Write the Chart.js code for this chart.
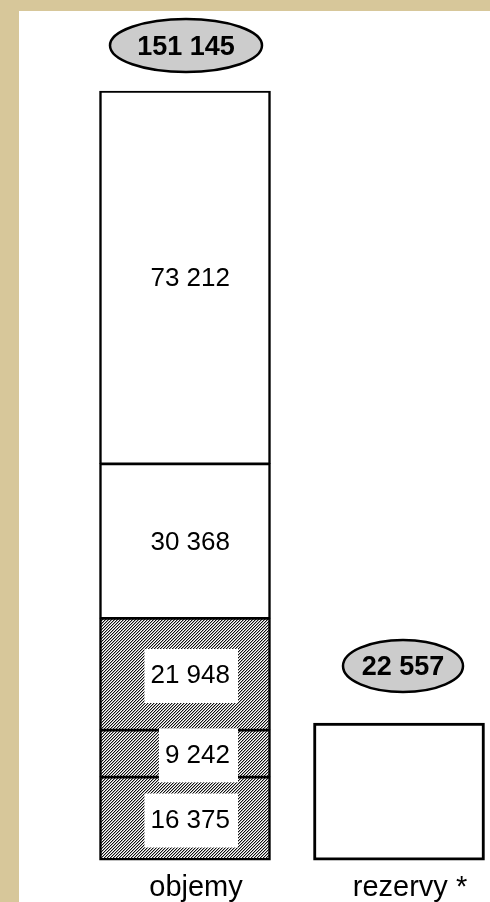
<!DOCTYPE html>
<html>
<head>
<meta charset="utf-8">
<script src="https://cdn.jsdelivr.net/npm/chart.js@4/dist/chart.umd.min.js"></script>
<style>
  html, body { margin: 0; padding: 0; background: #fff; }
  #c { display: block; }
</style>
</head>
<body>
<canvas id="c" width="490" height="902"></canvas>
<script>
// ---- data ----
const categories = ['objemy', 'rezervy *'];
const objemySegments = [16375, 9242, 21948, 30368, 73212]; // bottom to top
const objemyHatched = [true, true, true, false, false];
const rezervyValues = [22557];
const totals = [151145, 22557];

// ---- helpers ----
const fmt = v => String(v).replace(/\B(?=(\d{3})+(?!\d))/g, ' ');
const hatch = (() => {
  const c = document.createElement('canvas');
  c.width = 3; c.height = 3;
  const g = c.getContext('2d');
  const cols = ['#ffffff', '#111111', '#a8a8a8'];
  for (let y = 0; y < 3; y++) for (let x = 0; x < 3; x++) {
    g.fillStyle = cols[(x + y) % 3];
    g.fillRect(x, y, 1, 1);
  }
  return g.createPattern(c, 'repeat');
})();

const datasets = objemySegments.map((v, i) => ({
  label: 'objemy ' + i,
  data: [v, null],
  yAxisID: 'y',
  backgroundColor: objemyHatched[i] ? hatch : '#ffffff',
  borderColor: '#000',
  borderWidth: { top: 2, left: 2.5, right: 2.5, bottom: i === 0 ? 2.5 : 1.5 },
  borderSkipped: false,
  barThickness: 171,
  clip: false
}));
datasets.push({
  label: 'rezervy',
  data: [null, rezervyValues[0]],
  yAxisID: 'y2',
  backgroundColor: '#ffffff',
  borderColor: '#000',
  borderWidth: 3,
  borderSkipped: false,
  barThickness: 171,
  clip: false
});

const bgPlugin = {
  id: 'bg',
  beforeDraw(chart) {
    const ctx = chart.ctx;
    ctx.save();
    ctx.fillStyle = '#D7C79A';
    ctx.fillRect(0, 0, chart.width, chart.height);
    ctx.fillStyle = '#ffffff';
    ctx.fillRect(19, 11, chart.width - 19, chart.height - 11);
    ctx.restore();
  }
};

const ellipseStyle = [
  { dx: 1, dy: -45.5, rx: 76, ry: 26.5 },
  { dx: 4, dy: -57, rx: 60, ry: 26 }
];

const labelPlugin = {
  id: 'labels',
  afterDatasetsDraw(chart) {
    const ctx = chart.ctx;
    ctx.save();
    ctx.font = '26px "Liberation Sans", Arial, sans-serif';
    ctx.textAlign = 'right';
    ctx.textBaseline = 'middle';
    objemySegments.forEach((v, i) => {
      const el = chart.getDatasetMeta(i).data[0];
      const cy = (el.y + el.base) / 2;
      const rxp = el.x + 45;
      const txt = fmt(v);
      const w = ctx.measureText(txt).width;
      if (objemyHatched[i]) {
        ctx.fillStyle = '#fff';
        ctx.fillRect(rxp - w - 6, cy - 25, w + 14, 54);
      }
      ctx.fillStyle = '#000';
      ctx.fillText(txt, rxp, cy + 2);
    });
    // totals in ellipses
    const tops = [
      chart.getDatasetMeta(objemySegments.length - 1).data[0],
      chart.getDatasetMeta(objemySegments.length).data[1]
    ];
    ctx.font = 'bold 27px "Liberation Sans", Arial, sans-serif';
    ctx.textAlign = 'center';
    tops.forEach((el, k) => {
      const s = ellipseStyle[k];
      const cx = el.x + s.dx, cy = el.y + s.dy;
      ctx.beginPath();
      ctx.ellipse(cx, cy, s.rx, s.ry, 0, 0, Math.PI * 2);
      ctx.fillStyle = '#CCCCCC';
      ctx.fill();
      ctx.lineWidth = 2.5;
      ctx.strokeStyle = '#000';
      ctx.stroke();
      ctx.fillStyle = '#000';
      ctx.fillText(fmt(totals[k]), cx, cy + 2);
    });
    ctx.restore();
  }
};

new Chart(document.getElementById('c'), {
  type: 'bar',
  data: { labels: categories, datasets },
  options: {
    responsive: false,
    animation: false,
    devicePixelRatio: 1,
    layout: { padding: { top: 91, left: 185, right: 91, bottom: -13 } },
    plugins: { legend: { display: false }, tooltip: { enabled: false } },
    scales: {
      x: {
        stacked: true,
        offset: false,
        grid: { display: false, drawTicks: false },
        border: { display: false },
        ticks: {
          color: '#000',
          padding: 10,
          labelOffset: 11,
          font: { family: '"Liberation Sans", Arial, sans-serif', size: 29 }
        }
      },
      y: { stacked: true, display: false, min: 0, max: totals[0] },
      y2: { stacked: true, display: false, min: 0, max: 126500 }
    }
  },
  plugins: [bgPlugin, labelPlugin]
});
</script>
</body>
</html>
